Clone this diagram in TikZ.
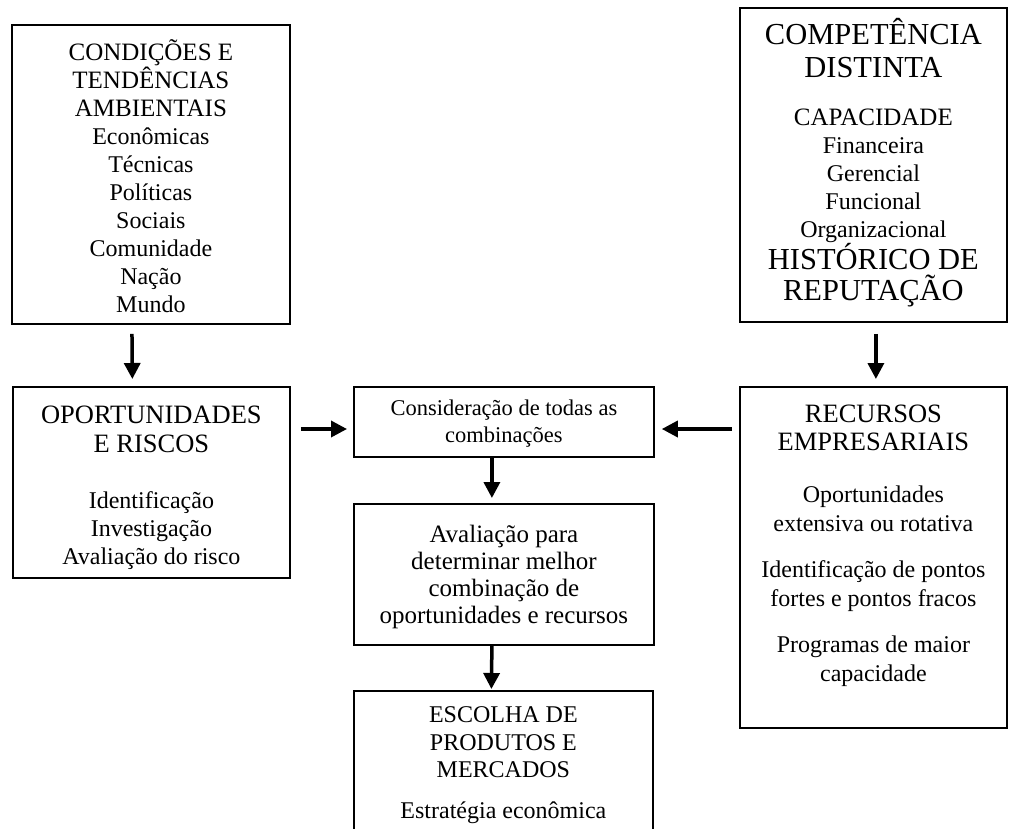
\documentclass[tikz,border=0pt]{standalone}
\usepackage{fontspec}
\setmainfont{Liberation Serif}
\usetikzlibrary{arrows.meta}

% size switch: type size, line distance, and a fixed word space
\newcommand\setsz[2]{\fontsize{#1}{#2}\selectfont
  \spaceskip=0.25em\relax}
\newcommand\sizeBig{\setsz{30.5}{31}}
\newcommand\sizeHead{\setsz{26.5}{29}}
\newcommand\sizeHeadA{\setsz{25}{28}}
\newcommand\sizeBody{\setsz{24}{28}}
\newcommand\sizeBodyB{\setsz{24}{29}}
\newcommand\sizeMid{\setsz{25}{27}}
\newcommand\sizeSmall{\setsz{22.5}{27}}

\tikzset{
  box/.style={draw, line width=1.8pt, anchor=north west, align=flush center,
    inner sep=0pt},
  arr/.style={line width=3.5pt, -{Triangle[width=16pt,length=16pt]}},
}

\begin{document}
\begin{tikzpicture}[x=1pt, y=-1pt]
\useasboundingbox (0,0) rectangle (1009,828);
\clip (0,0) rectangle (1009,828);

% environment
\node[box, minimum width=278pt, text width=270pt, text height=36pt, text depth=263pt] (cond) at (11,24)
  {\sizeHeadA CONDIÇÕES E\\TENDÊNCIAS\\AMBIENTAIS\\
   \sizeBody Econômicas\\Técnicas\\Políticas\\Sociais\\Comunidade\\Nação\\Mundo\par};

% company competence
\node[box, minimum width=267pt, text width=260pt, text height=37pt, text depth=277pt] (comp) at (739,7)
  {\sizeBig COMPETÊNCIA\\[2pt]DISTINTA\\[21pt]
   \sizeMid CAPACIDADE\\
   \sizeBody Financeira\\Gerencial\\Funcional\\Organizacional\\[-1pt]
   \sizeBig HISTÓRICO DE\\REPUTAÇÃO\par};

% opportunities and risks
\node[box, minimum width=277pt, text width=270pt, text height=37pt, text depth=154pt] (opor) at (12,386)
  {\sizeHead OPORTUNIDADES\\E RISCOS\\[28pt]
   \sizeBody Identificação\\Investigação\\Avaliação do risco\par};

% combinations
\node[box, minimum width=300pt, text width=290pt, text height=29pt, text depth=41pt] (cons) at (353,386)
  {\sizeSmall Consideração de todas as\\combinações\par};

% evaluation
\node[box, minimum width=300pt, text width=290pt, text height=39pt, text depth=102pt] (aval) at (353,503)
  {\sizeMid Avaliação para\\determinar melhor\\combinação de\\oportunidades e recursos\par};

% company resources
\node[box, minimum width=267pt, text width=260pt, text height=36pt, text depth=305pt] (recu) at (739,386)
  {\setsz{26.5}{28}RECURSOS\\EMPRESARIAIS\\[23pt]
   \sizeBodyB Oportunidades\\extensiva ou rotativa\\[17pt]
   Identificação de pontos\\fortes e pontos fracos\\[17pt]
   Programas de maior\\capacidade\par};

% products and markets (runs past the lower edge)
\node[box, minimum width=299pt, text width=290pt, text height=32pt, text depth=240pt] (esco) at (353,690)
  {\setsz{24}{27.5}ESCOLHA DE\\PRODUTOS E\\MERCADOS\\[13.5pt]
   Estratégia econômica\par};

% connectors
\coordinate (hrow) at (0,429);
\draw[arr, shorten <=9pt, shorten >=7pt] ([xshift=-19pt]cond.south) -- ([xshift=-19pt]opor.north);
\draw[arr, shorten <=11pt, shorten >=7pt] ([xshift=2.5pt]comp.south) -- ([xshift=2.5pt]recu.north);
\draw[arr, shorten <=10pt, shorten >=6pt] (opor.east |- hrow) -- (cons.west |- hrow);
\draw[arr, shorten <=7pt, shorten >=7pt] (recu.west |- hrow) -- (cons.east |- hrow);
\draw[arr, shorten >=5pt] ([xshift=-12pt]cons.south) -- ([xshift=-12pt]aval.north);
\draw[arr, shorten >=1pt] ([xshift=-12pt]aval.south) -- ([xshift=-12pt]esco.north);
\end{tikzpicture}
\end{document}
